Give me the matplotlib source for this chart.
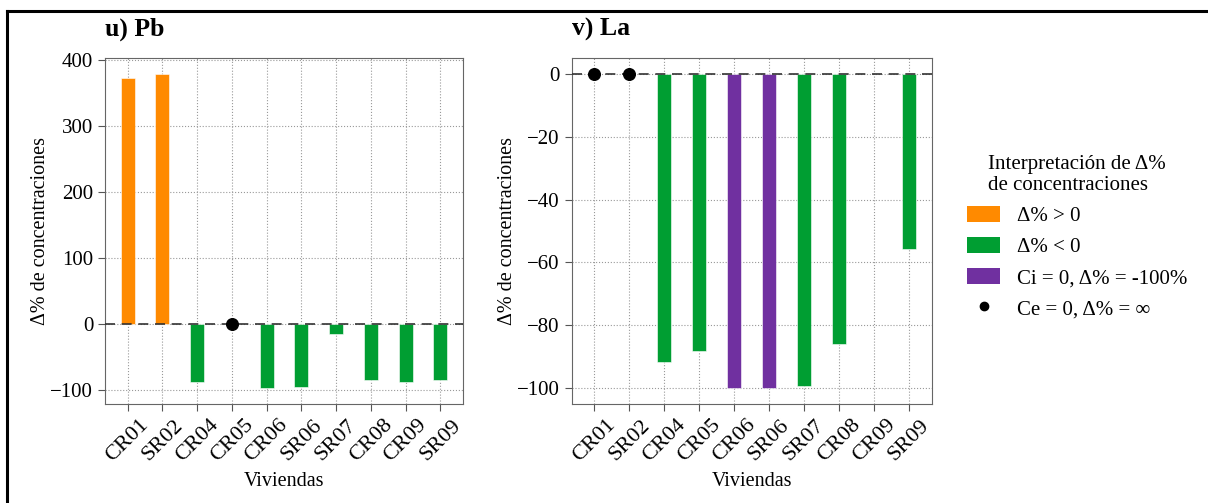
import numpy as np
import matplotlib
matplotlib.use('Agg')
import matplotlib.pyplot as plt
from matplotlib.patches import Patch
from matplotlib.lines import Line2D

plt.rcParams['font.family'] = ['Liberation Serif', 'DejaVu Serif']

viviendas = ['CR01', 'SR02', 'CR04', 'CR05', 'CR06', 'SR06', 'SR07', 'CR08', 'CR09', 'SR09']
# np.inf -> Ce = 0 (drawn as a dot), np.nan -> no data
pb = [373.7, 379.5, -88.7, np.inf, -97.8, -96.3, -15.7, -85.2, -88.7, -85.2]
la = [np.inf, np.inf, -91.7, -88.1, -100.0, -100.0, -99.2, -86.0, np.nan, -55.6]
titles = ['u) Pb', 'v) La']

ORANGE = '#FF8A00'
GREEN = '#009E32'
PURPLE = '#7030A0'


def bar_color(v):
    if v > 0:
        return ORANGE
    if v <= -100:
        return PURPLE
    return GREEN


def draw(ax, values, title):
    x = np.arange(len(viviendas))
    vals = np.array(values, dtype=float)
    finite = np.isfinite(vals)
    ax.bar(x[finite], vals[finite], width=0.4,
           color=[bar_color(v) for v in vals[finite]],
           edgecolor='white', linewidth=0.4, zorder=2)
    inf = np.isinf(vals)
    ax.scatter(x[inf], np.zeros(inf.sum()), s=70, color='black', zorder=4)
    ax.axhline(0, color='#333333', linestyle=(0, (6, 4)), linewidth=1.2, zorder=3)
    ax.set_xticks(x)
    ax.set_xticklabels(viviendas, rotation=45)
    ax.set_xlim(-0.65, len(viviendas) - 0.35)
    # 5% margins around data range (0 included)
    lo = min(0, np.nanmin(vals[finite]))
    hi = max(0, np.nanmax(vals[finite]))
    m = 0.05 * (hi - lo)
    ax.set_ylim(lo - m, hi + m)
    ax.grid(True, linestyle=':', color='#999999', linewidth=0.8, zorder=0)
    ax.set_axisbelow(True)
    ax.tick_params(labelsize=15, color='#555555', length=5)
    ax.tick_params(axis='x', labelsize=16)
    for s in ax.spines.values():
        s.set_color('#666666')
    ax.set_xlabel('Viviendas', fontsize=14.5)
    ax.set_ylabel('Δ% de concentraciones', fontsize=14.5, labelpad=0)
    ax.set_title(title, loc='left', fontsize=18.5, fontweight='bold', pad=16)


fig = plt.figure(figsize=(12.08, 5.03), dpi=100)
ax1 = fig.add_axes([0.0869, 0.1968, 0.2964, 0.6879])
ax2 = fig.add_axes([0.4733, 0.1968, 0.2980, 0.6879])
draw(ax1, pb, titles[0])
draw(ax2, la, titles[1])
ax1.set_yticks([-100, 0, 100, 200, 300, 400])
ax2.set_yticks([-100, -80, -60, -40, -20, 0])

handles = [
    Patch(facecolor=ORANGE, label='Δ% > 0'),
    Patch(facecolor=GREEN, label='Δ% < 0'),
    Patch(facecolor=PURPLE, label='Ci = 0, Δ% = -100%'),
    Line2D([], [], marker='o', color='black', linestyle='none', markersize=6,
           label='Ce = 0, Δ% = ∞'),
]
leg = fig.legend(handles=handles, loc='upper left', bbox_to_anchor=(0.785, 0.73),
                 frameon=False, fontsize=15, title='Interpretación de Δ%\nde concentraciones',
                 title_fontsize=15, handlelength=1.6, handleheight=0.85,
                 labelspacing=0.5, handletextpad=0.8)
leg.get_title().set_multialignment('left')

# frame lines around the figure (top and left)
fig.add_artist(Line2D([0.0062, 1.0], [0.979, 0.979], color='black', linewidth=2.2,
                      transform=fig.transFigure))
fig.add_artist(Line2D([0.0062, 0.0062], [0.0, 0.979], color='black', linewidth=2.2,
                      transform=fig.transFigure))

fig.savefig('out.png', dpi=100)
